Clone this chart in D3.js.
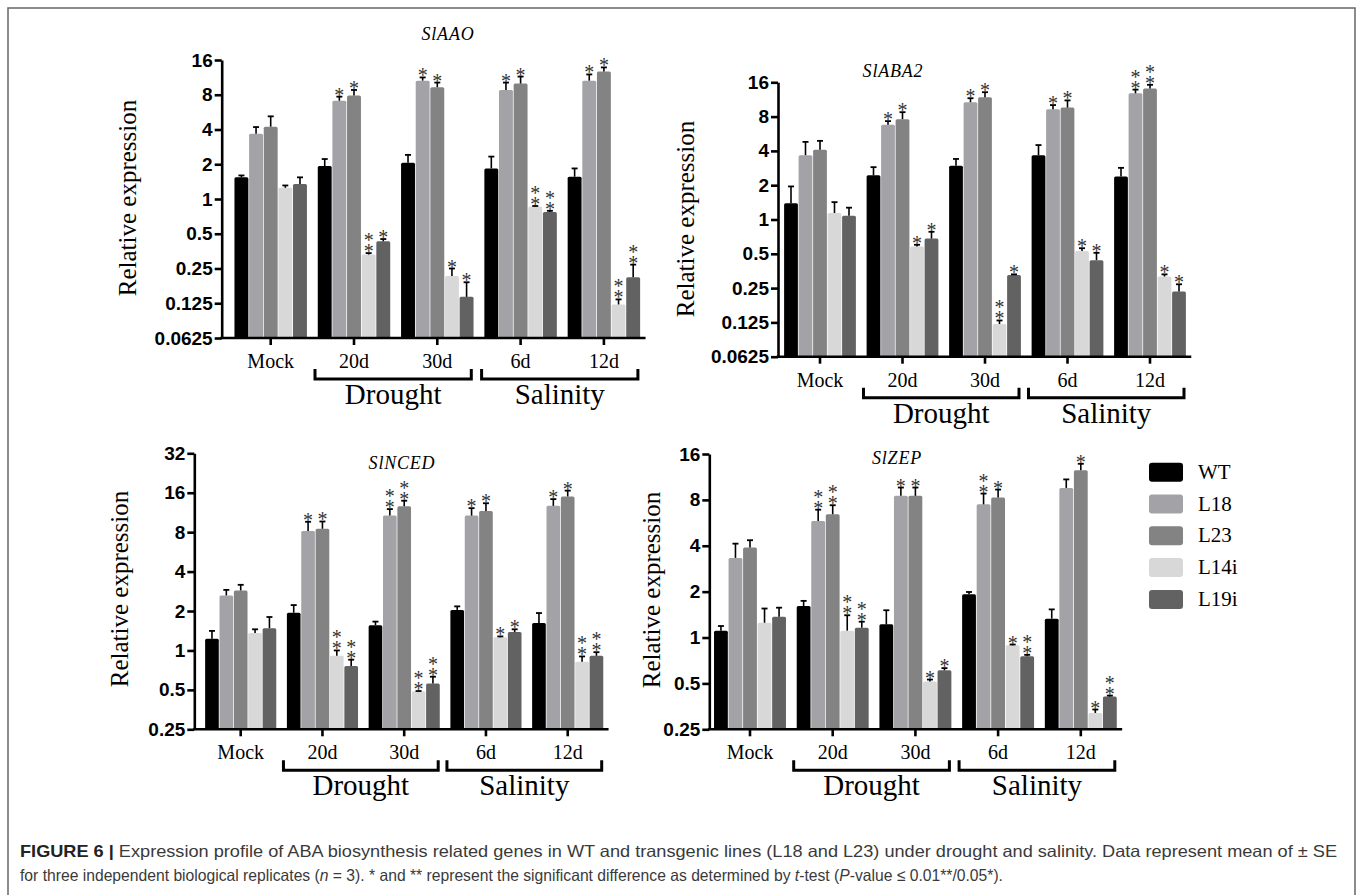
<!DOCTYPE html>
<html><head><meta charset="utf-8">
<script src="https://cdn.jsdelivr.net/npm/d3@7"></script>
<style>body{margin:0;background:#fff} svg{display:block}</style>
</head><body>
<svg id="c" width="1357" height="895"></svg>
<script>
// ---------- data ----------
const categories = ["Mock", "20d", "30d", "6d", "12d"];
const seriesNames = ["WT", "L18", "L23", "L14i", "L19i"];
const seriesColors = ["#000000", "#a3a3a7", "#838383", "#d8d8d8", "#626262"];
const stressGroups = ["Drought", "Salinity"];
const ticksA = [0.0625, 0.125, 0.25, 0.5, 1, 2, 4, 8, 16];
const ticksN = [0.25, 0.5, 1, 2, 4, 8, 16, 32];
const ticksZ = [0.25, 0.5, 1, 2, 4, 8, 16];

// SlAAO (rows = categories, cols = series)
const aaoMean = [
  [1.54, 3.68, 4.23, 1.25, 1.35],
  [1.93, 7.1, 7.9, 0.33, 0.43],
  [2.06, 10.6, 9.3, 0.215, 0.142],
  [1.84, 8.8, 10.0, 0.86, 0.77],
  [1.56, 10.6, 12.7, 0.122, 0.21]
];
const aaoUpper = [
  [1.6, 4.2, 5.2, 1.31, 1.54],
  [2.22, 7.7, 8.8, 0.34, 0.45],
  [2.41, 11.3, 10.2, 0.25, 0.19],
  [2.33, 10.2, 11.5, 0.87, 0.79],
  [1.84, 12.0, 13.8, 0.135, 0.27]
];
const aaoSig = [
  ["", "", "", "", ""],
  ["", "*", "*", "**", "*"],
  ["", "*", "*", "*", "*"],
  ["", "*", "*", "**", "**"],
  ["", "*", "*", "**", "**"]
];

// SlABA2
const aba2Mean = [
  [1.39, 3.67, 4.09, 1.14, 1.08],
  [2.44, 6.8, 7.6, 0.58, 0.68],
  [2.96, 10.7, 11.8, 0.121, 0.325],
  [3.67, 9.3, 9.6, 0.53, 0.44],
  [2.38, 12.8, 14.1, 0.316, 0.233]
];
const aba2Upper = [
  [1.95, 4.8, 4.9, 1.42, 1.27],
  [2.88, 7.3, 8.75, 0.6, 0.78],
  [3.4, 11.6, 13.1, 0.13, 0.33],
  [4.5, 10.1, 11.1, 0.56, 0.51],
  [2.84, 13.8, 15.2, 0.33, 0.27]
];
const aba2Sig = [
  ["", "", "", "", ""],
  ["", "*", "*", "*", "*"],
  ["", "*", "*", "**", "*"],
  ["", "*", "*", "*", "*"],
  ["", "**", "**", "*", "*"]
];

// SlNCED
const ncedMean = [
  [1.23, 2.63, 2.87, 1.36, 1.48],
  [1.94, 8.15, 8.5, 0.91, 0.76],
  [1.56, 10.7, 12.6, 0.487, 0.56],
  [2.04, 10.7, 11.6, 1.26, 1.38],
  [1.62, 12.7, 15.0, 0.82, 0.91]
];
const ncedUpper = [
  [1.41, 2.9, 3.17, 1.45, 1.8],
  [2.22, 9.6, 9.65, 1.0, 0.85],
  [1.66, 12.0, 13.9, 0.49, 0.63],
  [2.17, 12.2, 13.3, 1.28, 1.45],
  [1.93, 14.3, 16.6, 0.9, 0.97]
];
const ncedSig = [
  ["", "", "", "", ""],
  ["", "*", "*", "**", "**"],
  ["", "**", "**", "**", "**"],
  ["", "*", "*", "*", "*"],
  ["", "*", "*", "**", "**"]
];

// SlZEP
const zepMean = [
  [1.11, 3.33, 3.89, 1.25, 1.37],
  [1.61, 5.82, 6.44, 1.11, 1.16],
  [1.22, 8.5, 8.5, 0.514, 0.61],
  [1.92, 7.48, 8.28, 0.89, 0.755],
  [1.33, 9.58, 12.5, 0.32, 0.41]
];
const zepUpper = [
  [1.19, 4.13, 4.35, 1.55, 1.57],
  [1.74, 6.9, 7.38, 1.4, 1.27],
  [1.51, 9.64, 9.64, 0.53, 0.63],
  [1.99, 8.8, 9.35, 0.9, 0.77],
  [1.53, 10.9, 13.8, 0.337, 0.416]
];
const zepSig = [
  ["", "", "", "", ""],
  ["", "**", "**", "**", "**"],
  ["", "*", "*", "*", "*"],
  ["", "**", "*", "*", "**"],
  ["", "", "*", "*", "**"]
];

// ---------- drawing ----------
const svg = d3.select("#c");
const TIMES = "'Liberation Serif','Times New Roman',serif";
const ARIAL = "'Liberation Sans',Arial,sans-serif";

// outer frame
svg.append("path")
  .attr("d", "M8,900 V8 H1355 V900")
  .attr("fill", "none").attr("stroke", "#666").attr("stroke-width", 1.5);

function panel(o) {
  const g = svg.append("g");
  const y = d3.scaleLog().base(2)
    .domain([o.ticks[0], o.ticks[o.ticks.length - 1]])
    .range([o.yBottom, o.yTop]);
  const x = d3.scaleBand().domain(categories)
    .range([o.c0 - o.step / 2, o.c0 + o.step * 4.5])
    .paddingInner(0.13).paddingOuter(0.065);
  const xs = d3.scaleBand().domain(seriesNames)
    .range([0, x.bandwidth()]).paddingInner(0.05);

  categories.forEach((c, ci) => {
    seriesNames.forEach((s, si) => {
      const v = o.mean[ci][si], up = o.upper[ci][si];
      const bx = x(c) + xs(s), bw = xs.bandwidth();
      g.append("rect")
        .attr("x", bx).attr("y", y(v))
        .attr("width", bw).attr("height", o.yBottom - y(v))
        .attr("rx", 1.5)
        .attr("fill", seriesColors[si]);
      const cx = bx + bw / 2;
      g.append("line")
        .attr("x1", cx).attr("x2", cx).attr("y1", y(v)).attr("y2", y(up))
        .attr("stroke", "#000").attr("stroke-width", 1.6);
      g.append("line")
        .attr("x1", cx - 3).attr("x2", cx + 3).attr("y1", y(up)).attr("y2", y(up))
        .attr("stroke", "#000").attr("stroke-width", 1.8);
      const sig = o.sig[ci][si];
      if (sig.length) {
        const t = g.append("text")
          .attr("text-anchor", "middle")
          .attr("font-family", TIMES).attr("font-size", 20)
          .attr("fill", "#333");
        for (let k = 0; k < sig.length; k++) {
          t.append("tspan").attr("x", cx).attr("y", y(up) + 5 - k * 11).text("*");
        }
      }
    });
  });

  // y axis
  const ya = g.append("g")
    .attr("transform", `translate(${o.axisX},0)`)
    .call(d3.axisLeft(y).tickValues(o.ticks).tickFormat(d => String(d))
      .tickSize(7).tickSizeOuter(0).tickPadding(2));
  ya.selectAll("path,line").attr("stroke", "#000").attr("stroke-width", 2.6);
  ya.selectAll("text").attr("font-family", ARIAL).attr("font-weight", "bold")
    .attr("font-size", 19).attr("fill", "#000");

  // x axis
  const xa = g.append("g")
    .attr("transform", `translate(0,${o.yBottom})`)
    .call(d3.axisBottom(x).tickSize(7).tickSizeOuter(0).tickPadding(9));
  xa.select(".domain").remove();
  xa.selectAll("line").attr("stroke", "#000").attr("stroke-width", 2.6);
  xa.selectAll("text").attr("font-family", TIMES).attr("font-size", 20).attr("fill", "#000");
  g.append("line")
    .attr("x1", o.axisX - 1.3).attr("x2", o.c0 + o.step * 4.5)
    .attr("y1", o.yBottom).attr("y2", o.yBottom)
    .attr("stroke", "#000").attr("stroke-width", 2.6);

  // brackets
  const brackets = [[categories[1], categories[2]], [categories[3], categories[4]]];
  brackets.forEach((b, bi) => {
    const l = x(b[0]) + x.bandwidth() / 2 - 39;
    const r = x(b[1]) + x.bandwidth() / 2 + 34;
    const yb = o.yBottom + 41, yt = o.yBottom + 31;
    g.append("path")
      .attr("d", `M${l},${yt} V${yb} H${r} V${yt}`)
      .attr("fill", "none").attr("stroke", "#000").attr("stroke-width", 3);
    g.append("text")
      .attr("x", (l + r) / 2).attr("y", o.yBottom + 66)
      .attr("text-anchor", "middle")
      .attr("font-family", TIMES).attr("font-size", 29).attr("fill", "#000")
      .text(stressGroups[bi]);
  });

  // y label
  g.append("text")
    .attr("transform", `translate(${o.ylabX},${o.ylabY}) rotate(-90)`)
    .attr("text-anchor", "middle")
    .attr("font-family", TIMES).attr("font-size", 25).attr("fill", "#000")
    .text("Relative expression");

  // title
  g.append("text")
    .attr("x", o.titleX).attr("y", o.titleY)
    .attr("text-anchor", "middle")
    .attr("font-family", TIMES).attr("font-style", "italic")
    .attr("font-size", 18).attr("letter-spacing", 0.8).attr("fill", "#000")
    .text(o.title);
}

panel({ title: "SlAAO", mean: aaoMean, upper: aaoUpper, sig: aaoSig, ticks: ticksA,
  axisX: 221.7, yTop: 60, yBottom: 338, c0: 270.7, step: 83.3,
  ylabX: 136, ylabY: 198, titleX: 448, titleY: 40 });
panel({ title: "SlABA2", mean: aba2Mean, upper: aba2Upper, sig: aba2Sig, ticks: ticksA,
  axisX: 778, yTop: 82.3, yBottom: 356.7, c0: 820, step: 82.5,
  ylabX: 694, ylabY: 219, titleX: 893, titleY: 77 });
panel({ title: "SlNCED", mean: ncedMean, upper: ncedUpper, sig: ncedSig, ticks: ticksN,
  axisX: 194.3, yTop: 453.3, yBottom: 729.3, c0: 240.7, step: 81.75,
  ylabX: 128, ylabY: 589, titleX: 402, titleY: 469 });
panel({ title: "SlZEP", mean: zepMean, upper: zepUpper, sig: zepSig, ticks: ticksZ,
  axisX: 709.3, yTop: 454, yBottom: 729.3, c0: 750, step: 82.7,
  ylabX: 660, ylabY: 590, titleX: 897, titleY: 464 });

// legend
const leg = svg.append("g");
seriesNames.forEach((s, i) => {
  const ty = 462.7 + i * 31.8;
  leg.append("rect").attr("x", 1149).attr("y", ty).attr("width", 34).attr("height", 19)
    .attr("rx", 3).attr("fill", seriesColors[i]);
  leg.append("text").attr("x", 1198).attr("y", ty + 16)
    .attr("font-family", TIMES).attr("font-size", 21).attr("fill", "#000").text(s);
});

// caption
const cap1 = svg.append("text").attr("x", 20).attr("y", 857)
  .attr("font-family", ARIAL).attr("font-size", 16.5).attr("fill", "#3a3a3a")
  .attr("textLength", 1317).attr("lengthAdjust", "spacingAndGlyphs");
cap1.append("tspan").attr("font-weight", "bold").attr("fill", "#222").text("FIGURE 6 |");
cap1.append("tspan").text(" Expression profile of ABA biosynthesis related genes in WT and transgenic lines (L18 and L23) under drought and salinity. Data represent mean of \u00b1 SE");

const cap2 = svg.append("text").attr("x", 20).attr("y", 881)
  .attr("font-family", ARIAL).attr("font-size", 16.5).attr("fill", "#3a3a3a")
  .attr("textLength", 983).attr("lengthAdjust", "spacingAndGlyphs");
cap2.append("tspan").text("for three independent biological replicates (");
cap2.append("tspan").attr("font-style", "italic").text("n");
cap2.append("tspan").text(" = 3). * and ** represent the significant difference as determined by ");
cap2.append("tspan").attr("font-style", "italic").text("t");
cap2.append("tspan").text("-test (");
cap2.append("tspan").attr("font-style", "italic").text("P");
cap2.append("tspan").text("-value \u2264 0.01**/0.05*).");
</script>
</body></html>
